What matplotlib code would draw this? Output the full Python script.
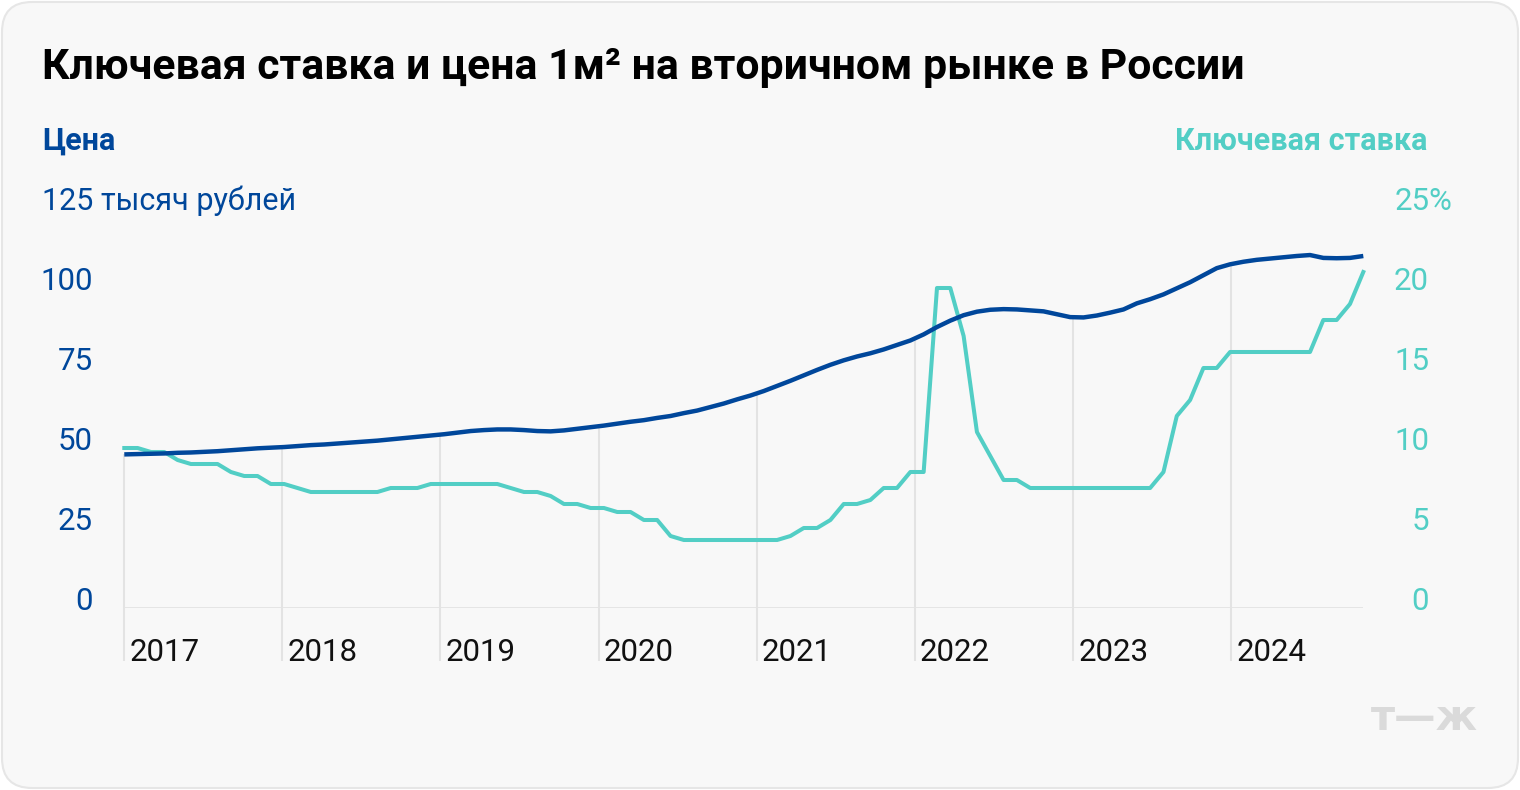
import matplotlib
matplotlib.use('Agg')
import matplotlib.pyplot as plt
import matplotlib.dates as mdates
from matplotlib.patches import FancyBboxPatch
from matplotlib.transforms import offset_copy, IdentityTransform
import numpy as np
import pandas as pd

plt.rcParams['font.family'] = ['Roboto', 'DejaVu Sans']

# monthly values, Jan 2017 .. Oct 2024
months = pd.date_range('2017-01-01', periods=94, freq='MS')
axis_end = pd.Timestamp('2024-11-01')

# price of 1 m2, thousand rubles
price = [48.0, 48.1, 48.2, 48.3, 48.5, 48.6, 48.8, 49.0, 49.3, 49.6, 49.9, 50.1,
         50.3, 50.6, 50.9, 51.1, 51.4, 51.7, 52.0, 52.3, 52.7, 53.1, 53.5, 53.9,
         54.3, 54.8, 55.3, 55.6, 55.8, 55.8, 55.6, 55.3, 55.2, 55.5, 56.0, 56.5,
         57.0, 57.6, 58.2, 58.7, 59.4, 60.0, 60.9, 61.7, 62.8, 63.9, 65.2, 66.4,
         67.8, 69.4, 71.0, 72.7, 74.4, 76.0, 77.4, 78.6, 79.6, 80.8, 82.2, 83.6,
         85.5, 87.8, 89.8, 91.5, 92.6, 93.2, 93.4, 93.3, 93.0, 92.7, 91.8, 90.9,
         90.8, 91.4, 92.3, 93.3, 95.2, 96.5, 98.0, 99.9, 101.8, 104.0, 106.2, 107.4,
         108.2, 108.8, 109.2, 109.6, 110.0, 110.3, 109.4, 109.3, 109.4, 110.0]

# key rate, %
rate = [10, 10, 9.75, 9.75, 9.25, 9, 9, 9, 8.5, 8.25, 8.25, 7.75,
        7.75, 7.5, 7.25, 7.25, 7.25, 7.25, 7.25, 7.25, 7.5, 7.5, 7.5, 7.75,
        7.75, 7.75, 7.75, 7.75, 7.75, 7.5, 7.25, 7.25, 7.0, 6.5, 6.5, 6.25,
        6.25, 6.0, 6.0, 5.5, 5.5, 4.5, 4.25, 4.25, 4.25, 4.25, 4.25, 4.25,
        4.25, 4.25, 4.5, 5.0, 5.0, 5.5, 6.5, 6.5, 6.75, 7.5, 7.5, 8.5,
        8.5, 20, 20, 17, 11, 9.5, 8, 8, 7.5, 7.5, 7.5, 7.5,
        7.5, 7.5, 7.5, 7.5, 7.5, 7.5, 8.5, 12, 13, 15, 15, 16,
        16, 16, 16, 16, 16, 16, 18, 18, 19, 21]

years = [2017, 2018, 2019, 2020, 2021, 2022, 2023, 2024]
price_ticks = [0, 25, 50, 75, 100]
rate_ticks = [0, 5, 10, 15, 20]

title = 'Ключевая ставка и цена 1м² на вторичном рынке в России'

BLUE = '#00479b'
TEAL = '#52cec5'
GRID = '#e3e3e3'
FS = 22.5

W, H = 1520, 790
fig = plt.figure(figsize=(W / 100, H / 100), dpi=100, facecolor='white')

card = FancyBboxPatch((2, 2), W - 4, H - 4, boxstyle='round,pad=0,rounding_size=30',
                      transform=IdentityTransform(), facecolor='#f8f8f8',
                      edgecolor='#e6e6e6', linewidth=1.5, zorder=-5)
fig.patches.append(card)

x0, x1 = 124.3, 1363.3
y0, y1 = 608, 208
ax = fig.add_axes([x0 / W, (H - y0) / H, (x1 - x0) / W, (y0 - y1) / H])
ax2 = ax.twinx()
for a in (ax, ax2):
    a.set_facecolor('none')
    for s in a.spines.values():
        s.set_visible(False)
    a.set_xticks([])
    a.set_yticks([])
ax.set_zorder(ax2.get_zorder() + 1)

# points are spread evenly over the date span, like in the original
x = np.linspace(mdates.date2num(months[0]), mdates.date2num(axis_end), len(months))
ax.set_xlim(x[0], x[-1])
ax.set_ylim(0, 125)
ax2.set_ylim(0, 25)

# year lines run from the price curve down past the axis
for yr in years:
    xd = mdates.date2num(pd.Timestamp(f'{yr}-01-01'))
    top = np.interp(xd, x, price)
    ax2.vlines(xd, -3.3, top / 5, color=GRID, lw=1.5, clip_on=False, zorder=0)
    ax.text(xd, 0, str(yr), transform=offset_copy(ax.transData, fig=fig, x=5, y=-53, units='dots'),
            ha='left', va='baseline', fontsize=FS, color='#111111')

ax2.axhline(0, color=GRID, lw=2, zorder=0)

ax2.plot(x, rate, color=TEAL, lw=2.9, clip_on=False, solid_joinstyle='round')
ax.plot(x, price, color=BLUE, lw=3.2, clip_on=False, solid_capstyle='butt')

# left labels
lt = offset_copy(ax.get_yaxis_transform(), fig=fig, x=93 - x0, y=-2, units='dots')
for v in price_ticks:
    ax.text(0, v, str(v), transform=lt, ha='right', va='baseline', fontsize=FS, color=BLUE)
ax.text(0, 125, '125 тысяч рублей',
        transform=offset_copy(ax.get_yaxis_transform(), fig=fig, x=42 - x0, y=-2, units='dots'),
        ha='left', va='baseline', fontsize=22, color=BLUE)

# right labels
rt = offset_copy(ax2.get_yaxis_transform(), fig=fig, x=1429 - x1, y=-2, units='dots')
for v in rate_ticks:
    ax2.text(1, v, str(v), transform=rt, ha='right', va='baseline', fontsize=FS, color=TEAL)
ax2.text(1, 25, '25%',
         transform=offset_copy(ax2.get_yaxis_transform(), fig=fig, x=1395 - x1, y=-2, units='dots'),
         ha='left', va='baseline', fontsize=FS, color=TEAL)

fig.text(42 / W, 1 - 79 / H, title, fontsize=30.8, fontweight='bold', color='#000000', va='baseline')
fig.text(42 / W, 1 - 150 / H, 'Цена', fontsize=22, fontweight='bold', color=BLUE, va='baseline')
fig.text(1427 / W, 1 - 150 / H, 'Ключевая ставка', fontsize=22, fontweight='bold', color=TEAL,
         ha='right', va='baseline')
fig.text(1478 / W, 1 - 730 / H, 'т—ж', fontsize=30, fontweight='bold', color='#dadada',
         ha='right', va='baseline', family='DejaVu Sans')

fig.savefig('out.png', dpi=100, facecolor='white')
